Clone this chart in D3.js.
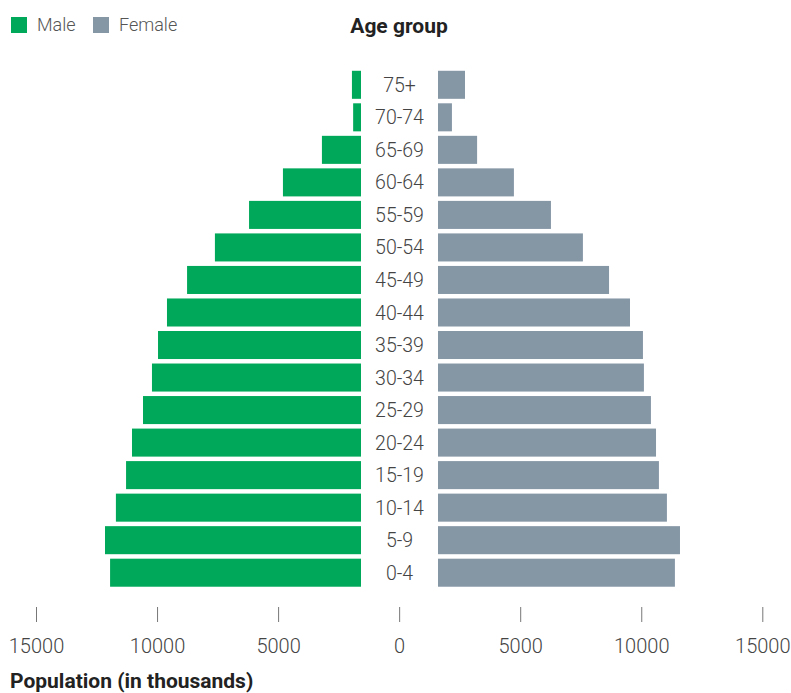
<!DOCTYPE html>
<html>
<head>
<meta charset="utf-8">
<script src="https://cdn.jsdelivr.net/npm/d3@7"></script>
<style>
  html, body { margin: 0; padding: 0; background: #fff; }
  svg { display: block; }
  text { font-family: Roboto, "Noto Sans", sans-serif; }
</style>
</head>
<body>
<svg id="chart" width="791" height="693"></svg>
<script>
// ---- data ----
const ageGroups = ["75+", "70-74", "65-69", "60-64", "55-59", "50-54", "45-49", "40-44",
                   "35-39", "30-34", "25-29", "20-24", "15-19", "10-14", "5-9", "0-4"];
const male   = [1950, 1900, 3190, 4800, 6200, 7610, 8760, 9590,
                9960, 10210, 10580, 11035, 11280, 11700, 12150, 11940];
const female = [2720, 2180, 3220, 4740, 6270, 7590, 8670, 9535,
                10070, 10110, 10400, 10610, 10730, 11060, 11600, 11390];
const tickValues = [-15000, -10000, -5000, 0, 5000, 10000, 15000];
const seriesNames = ["Male", "Female"];

const colors = { Male: "#00a859", Female: "#8596a5" };

const svg = d3.select("#chart");

// scales
const x = d3.scaleLinear().domain([-15000, 15000]).range([36, 762.3]);
const y = d3.scaleBand().domain(ageGroups).range([68.5, 589]).paddingInner(0.138).paddingOuter(0.07);

const gapLeft = 361, gapRight = 438;

// male bars (left)
svg.append("g").selectAll("rect")
  .data(ageGroups.map((g, i) => ({ g, v: male[i] })))
  .join("rect")
  .attr("x", d => x(-d.v))
  .attr("width", d => gapLeft - x(-d.v))
  .attr("y", d => y(d.g))
  .attr("height", y.bandwidth())
  .attr("fill", colors.Male);

// female bars (right)
svg.append("g").selectAll("rect")
  .data(ageGroups.map((g, i) => ({ g, v: female[i] })))
  .join("rect")
  .attr("x", gapRight)
  .attr("width", d => x(d.v) - gapRight)
  .attr("y", d => y(d.g))
  .attr("height", y.bandwidth())
  .attr("fill", colors.Female);

// age labels
svg.append("g").selectAll("text")
  .data(ageGroups)
  .join("text")
  .attr("x", 399.5)
  .attr("y", d => y(d) + y.bandwidth() / 2)
  .attr("dy", "0.36em")
  .attr("text-anchor", "middle")
  .attr("font-size", 19.5)
  .attr("font-weight", 300)
  .attr("fill", "#444")
  .text(d => d);

// x axis
const axis = d3.axisBottom(x)
  .tickValues(tickValues)
  .tickSize(15)
  .tickPadding(17)
  .tickFormat(d => String(Math.abs(d)));
const ga = svg.append("g").attr("transform", "translate(0,607)").call(axis);
ga.select(".domain").remove();
ga.selectAll(".tick line").attr("stroke", "#777").attr("stroke-width", 1);
ga.selectAll(".tick text")
  .attr("font-size", 20)
  .attr("font-weight", 300)
  .attr("fill", "#444")
  .style("font-family", "Roboto, 'Noto Sans', sans-serif");

// axis title
svg.append("text")
  .attr("x", 10).attr("y", 688)
  .attr("font-size", 21).attr("font-weight", "bold")
  .attr("fill", "#222")
  .text("Population (in thousands)");

// legend
const leg = svg.append("g");
const legX = [11, 93];
seriesNames.forEach((name, i) => {
  leg.append("rect").attr("x", legX[i]).attr("y", 17).attr("width", 16).attr("height", 16)
    .attr("fill", colors[name]);
  leg.append("text").attr("x", legX[i] + 26).attr("y", 25).attr("dy", "0.36em")
    .attr("font-size", 18).attr("font-weight", 300).attr("fill", "#555").text(name);
});

// age group heading
svg.append("text")
  .attr("x", 399).attr("y", 25).attr("dy", "0.36em")
  .attr("text-anchor", "middle")
  .attr("font-size", 21).attr("font-weight", "bold").attr("fill", "#222")
  .text("Age group");
</script>
</body>
</html>
